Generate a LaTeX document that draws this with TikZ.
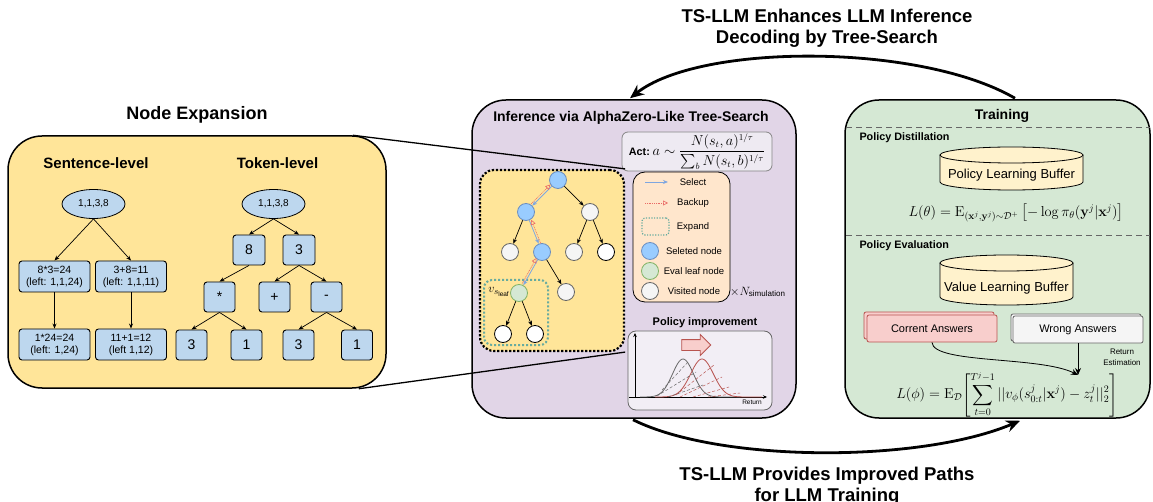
\documentclass[tikz,border=0pt]{standalone}
\usepackage{amsmath}
\usepackage[no-math]{fontspec}
\setmainfont{Liberation Sans}
\usetikzlibrary{arrows.meta,shapes.geometric,shapes.arrows}
\definecolor{yellowbg}{HTML}{FFE599}
\definecolor{boxblue}{HTML}{BDD7EE}
\definecolor{purplebg}{HTML}{E1D5E7}
\definecolor{greenbg}{HTML}{D5E8D4}
\definecolor{peach}{HTML}{FFE6CC}
\definecolor{cylfill}{HTML}{FFF2CC}
\definecolor{redfill}{HTML}{F8CECC}
\definecolor{redline}{HTML}{B85450}
\definecolor{selblue}{HTML}{99CCFF}
\definecolor{selborder}{HTML}{6C8EBF}
\definecolor{visgray}{HTML}{F5F5F5}
\definecolor{visborder}{HTML}{666666}
\definecolor{evgreen}{HTML}{D5E8D4}
\definecolor{evborder}{HTML}{82B366}
\definecolor{tealdot}{HTML}{67AB9F}
\definecolor{selline}{HTML}{7EA6E0}
\definecolor{backred}{HTML}{EA6B66}
\definecolor{actfill}{HTML}{EEEAF2}
\definecolor{pifill}{HTML}{F2EEF5}
\newcommand\fsz[1]{\fontsize{#1}{#1}\selectfont}
\begin{document}
\begin{tikzpicture}[x=1pt,y=-1pt,
 panel/.style={draw=black, line width=1.5pt, rounded corners=34, inner sep=0},
 sbox/.style={draw=black, fill=boxblue, rounded corners=3, minimum width=71, minimum height=31, inner sep=0, align=center, font=\fontsize{10.5}{12}\selectfont, line width=0.9pt},
 tbox/.style={draw=black, fill=boxblue, rounded corners=3, minimum width=31, minimum height=30, inner sep=0, font=\fsz{14}, line width=0.9pt},
 rootell/.style={ellipse, draw=black, fill=boxblue, minimum width=63, minimum height=29, inner sep=0, font=\fsz{10}, line width=0.8pt},
 tarr/.style={-{Stealth[length=5pt,width=4pt]}, line width=0.7pt},
 cnode/.style={circle, minimum size=17, inner sep=0, line width=0.8pt},
 selnode/.style={cnode, fill=selblue, draw=selborder},
 visnode/.style={cnode, fill=visgray, draw=visborder},
 whnode/.style={cnode, fill=white, draw=black},
 evnode/.style={cnode, fill=evgreen, draw=evborder},
 selarr/.style={-{Stealth[length=5pt,width=4pt]}, draw=selline, line width=0.8pt},
 backarr/.style={-{Triangle[open,length=5pt,width=5pt]}, draw=backred, line width=0.6pt, dash pattern=on 1pt off 0.8pt},
 legtext/.style={font=\fsz{9.5}},
 bigarr/.style={-{Stealth[length=14pt,width=12pt]}, line width=2.8pt},
 biglabel/.style={font=\bfseries\fontsize{18.5}{21}\selectfont, align=center},
 dashsep/.style={draw=visborder, line width=0.9pt, dash pattern=on 6pt off 4pt},
 smalltitle/.style={font=\bfseries\fsz{10.8}, anchor=west},
 docbox/.style={minimum width=130, minimum height=27, inner sep=0, line width=0.8pt, rounded corners=2, font=\fsz{11}}
]
\useasboundingbox (0,0) rectangle (1153,502);

% ---------- panels ----------
\node[panel, fill=yellowbg, minimum width=378, minimum height=252] (leftpanel) at (197,262) {};
\node[panel, fill=purplebg, minimum width=324, minimum height=318] (midpanel) at (634,259) {};
\node[panel, fill=greenbg, minimum width=305, minimum height=318] (rightpanel) at (997.5,259) {};

% ---------- left panel ----------
\node[font=\bfseries\fsz{18}] (nodeexp) at (197,115) {Node Expansion};
\node[font=\bfseries\fsz{15}] (sentlab) at (96,163) {Sentence-level};
\node[font=\bfseries\fsz{15}] (toklab) at (277.5,163) {Token-level};

\node[rootell] (e1) at (93.5,204) {1,1,3,8};
\node[sbox] (s1) at (54.5,276.5) {8*3=24\\(left: 1,1,24)};
\node[sbox] (s2) at (131,276.5) {3+8=11\\(left: 1,1,11)};
\node[sbox] (s3) at (54.5,344.5) {1*24=24\\(left: 1,24)};
\node[sbox] (s4) at (131,344.5) {11+1=12\\(left 1,12)};
\draw[tarr] (e1.south) -- (s1.north);
\draw[tarr] (e1.south) -- (s2.north);
\draw[tarr] (s1.south) -- (s3.north);
\draw[tarr] (s2.south) -- (s4.north);

\node[rootell] (e2) at (273.5,204) {1,1,3,8};
\node[tbox, minimum width=32] (t8) at (249,250) {8};
\node[tbox, minimum width=32] (t3) at (299,250) {3};
\node[tbox] (tmul) at (219.5,297) {*};
\node[tbox] (tplus) at (274.5,297) {+};
\node[tbox] (tminus) at (326.5,297) {-};
\node[tbox] (b1) at (191.5,345) {3};
\node[tbox] (b2) at (246.5,345) {1};
\node[tbox] (b3) at (298.5,345) {3};
\node[tbox] (b4) at (357,345) {1};
\draw[tarr] (e2.south) -- (t8.north);
\draw[tarr] (e2.south) -- (t3.north);
\draw[tarr] (t8.south) -- (tmul.north);
\draw[tarr] (t3.south) -- (tplus.north);
\draw[tarr] (t3.south) -- (tminus.north);
\draw[tarr] (tmul.south) -- (b1.north);
\draw[tarr] (tmul.south) -- (b2.north);
\draw[tarr] (tminus.south) -- (b3.north);
\draw[tarr] (tminus.south) -- (b4.north);

% ---------- middle panel ----------
\node[font=\bfseries\fsz{14}] (midtitle) at (631,118) {Inference via AlphaZero-Like Tree-Search};
\node[draw=visborder!80, fill=actfill, rounded corners=6, minimum width=150, minimum height=39, inner sep=0, line width=0.8pt] (act) at (697,151.5)
 {{\bfseries\fsz{10.8}Act:}\ \fontsize{13.5}{14}\selectfont$a\sim\dfrac{N(s_t,a)^{1/\tau}}{\sum_b N(s_t,b)^{1/\tau}}$};

\node[draw=black, fill=yellowbg, rounded corners=14, minimum width=144, minimum height=181, inner sep=0, line width=2.2pt, dash pattern=on 2.2pt off 1.8pt] (dbox) at (552,260.5) {};
\draw[line width=1.3pt] ([xshift=-34pt]leftpanel.north east) -- (dbox.north east);
\draw[line width=1.3pt] ([xshift=-28pt]leftpanel.south east) -- (dbox.south east);

\node[draw=tealdot, rounded corners=8, minimum width=64, minimum height=65, inner sep=0, line width=2pt, dash pattern=on 2pt off 2pt] (ebox) at (516,312.5) {};

\node[selnode] (n0) at (558,180) {};
\node[selnode] (n1) at (526,212) {};
\node[visnode] (n2) at (590,212) {};
\node[visnode] (n3) at (510,252) {};
\node[selnode] (n4) at (542,252) {};
\node[visnode] (n5) at (574,252) {};
\node[whnode] (n6) at (606,252) {};
\node[evnode] (n7) at (519,293) {};
\node[visnode] (n8) at (566,292) {};
\node[whnode] (n9) at (503,334) {};
\node[whnode] (n10) at (535,334) {};
\node[anchor=east, inner sep=0, font=\fsz{13}] (vleaf) at (510,292) {$v_{s_{\text{leaf}}}$};

\draw[tarr] (n0) -- (n2);
\draw[tarr] (n1) -- (n3);
\draw[tarr] (n2) -- (n5);
\draw[tarr] (n2) -- (n6);
\draw[tarr] (n4) -- (n8);
\draw[tarr] (n7) -- (n9);
\draw[tarr] (n7) -- (n10);
\draw[selarr] (n0) -- (n1);
\draw[selarr] (n1) -- (n4);
\draw[selarr] (n4) -- (n7);
\draw[backarr, transform canvas={xshift=-1.2pt,yshift=1.8pt}] (n1) -- (n0);
\draw[backarr, transform canvas={xshift=2pt,yshift=0.5pt}] (n4) -- (n1);
\draw[backarr, transform canvas={xshift=-1.2pt,yshift=1.8pt}] (n7) -- (n4);

% legend
\node[draw=black, fill=peach, rounded corners=12, minimum width=97, minimum height=130, inner sep=0, line width=0.8pt] (leg) at (681.5,237) {};
\coordinate (ls1) at (645,182);
\coordinate (ls2) at (668,182);
\draw[selarr] (ls1) -- (ls2);
\node[legtext] (lsel) at (693,182) {Select};
\coordinate (lb1) at (645,203);
\coordinate (lb2) at (668,203);
\draw[backarr] (lb1) -- (lb2);
\node[legtext] (lback) at (693,203) {Backup};
\node[draw=tealdot, rounded corners=3, minimum width=27, minimum height=17, inner sep=0, line width=1.2pt, dash pattern=on 1.2pt off 1.5pt] (lexp) at (655.5,226.5) {};
\node[legtext] (lexpt) at (693,227) {Expand};
\node[selnode] (lc1) at (650,251) {};
\node[legtext] (lc1t) at (694,251) {Seleted node};
\node[evnode] (lc2) at (650,271) {};
\node[legtext] (lc2t) at (694,271) {Eval leaf node};
\node[visnode] (lc3) at (650,291) {};
\node[legtext] (lc3t) at (694,291) {Visited node};
\node[anchor=west, inner sep=0, font=\fsz{12}] (nsim) at (730,292) {$\times N_{\text{simulation}}$};

% policy improvement
\node[font=\bfseries\fsz{11}] (pititle) at (705,323) {Policy improvement};
\node[draw=visborder, fill=pifill, rounded corners=8, minimum width=144, minimum height=79, inner sep=0, line width=0.8pt] (pibox) at (700,370.5) {};
\coordinate (ay0) at (635,398);
\coordinate (ay1) at (635,333);
\coordinate (ax0) at (629,397);
\coordinate (ax1) at (767,397);
\draw[-{Stealth[length=4pt,width=3.5pt]}, line width=0.7pt] (ay0) -- (ay1);
\draw[-{Stealth[length=4pt,width=3.5pt]}, line width=0.7pt] (ax0) -- (ax1);
\node[font=\fsz{6.5}, inner sep=0] (retlab) at (752,402) {Return};
\draw[visborder, line width=0.8pt] plot[domain=640:740, samples=80] (\x, {397-38*exp(-((\x-683)^2)/220)});
\draw[redline, line width=0.8pt] plot[domain=655:762, samples=80] (\x, {397-38*exp(-((\x-702)^2)/260)});
\draw[visborder, densely dashed, line width=0.5pt] (662,390) -- (688,362);
\draw[visborder, densely dashed, line width=0.5pt] (657,396) -- (696,372);
\draw[visborder, densely dashed, line width=0.5pt] (668,397) -- (703,385);
\draw[redline, densely dashed, line width=0.5pt] (676,395) -- (714,365);
\draw[redline, densely dashed, line width=0.5pt] (680,397) -- (722,377);
\draw[redline, densely dashed, line width=0.5pt] (693,397) -- (729,387);
\draw[redline, densely dashed, line width=0.5pt] (708,397) -- (740,393);
\node[single arrow, draw=redline, fill=redfill, minimum height=29, inner xsep=0, inner ysep=5pt, single arrow head extend=5pt, single arrow head indent=0pt, line width=0.8pt] (piarrow) at (693.5,345) {};

% ---------- right panel ----------
\node[font=\bfseries\fsz{14}] (traintitle) at (1002,116) {Training};
\coordinate (d1a) at (846,127);
\coordinate (d1b) at (1150,127);
\draw[dashsep] (d1a) -- (d1b);
\coordinate (d2a) at (846,235);
\coordinate (d2b) at (1150,235);
\draw[dashsep] (d2a) -- (d2b);
\node[smalltitle] (pdist) at (856,138) {Policy Distillation};
\node[smalltitle] (peval) at (856,246) {Policy Evaluation};

% cylinder 1
\fill[cylfill] (940,155) -- (940,182) arc[start angle=180,end angle=360,x radius=71.5pt,y radius=8pt] -- (1083,155) arc[start angle=0,end angle=180,x radius=71.5pt,y radius=8pt] -- cycle;
\draw[line width=0.8pt] (940,155) -- (940,182) arc[start angle=180,end angle=360,x radius=71.5pt,y radius=8pt] -- (1083,155);
\draw[line width=0.8pt] (1011.5,155) ellipse[x radius=71.5pt,y radius=8pt];
\node[font=\fsz{13}] (plb) at (1011.5,175) {Policy Learning Buffer};
\node[font=\fontsize{14}{16}\selectfont] (lossp) at (1016,213) {$L(\theta)=\mathrm{E}_{(\mathbf{x}^j,\mathbf{y}^j)\sim\mathcal{D}^+}\left[-\log\pi_\theta(\mathbf{y}^j|\mathbf{x}^j)\right]$};

% cylinder 2
\fill[cylfill] (940,263) -- (940,297) arc[start angle=180,end angle=360,x radius=66.5pt,y radius=8pt] -- (1073,263) arc[start angle=0,end angle=180,x radius=66.5pt,y radius=8pt] -- cycle;
\draw[line width=0.8pt] (940,263) -- (940,297) arc[start angle=180,end angle=360,x radius=66.5pt,y radius=8pt] -- (1073,263);
\draw[line width=0.8pt] (1006.5,263) ellipse[x radius=66.5pt,y radius=8pt];
\node[font=\fsz{13}] (vlb) at (1006.5,288) {Value Learning Buffer};

% answer boxes
\node[docbox, draw=redline, fill=redfill] (caback) at (929,325.5) {};
\node[docbox, draw=redline, fill=redfill] (ca) at (932,328.5) {Corrent Answers};
\node[docbox, draw=visborder, fill=visgray] (waback) at (1076,327.5) {};
\node[docbox, draw=visborder, fill=visgray] (wa) at (1078,329.5) {Wrong Answers};
\coordinate (tip) at (1078,375);
\draw[-{Stealth[length=7pt,width=6pt]}, line width=0.8pt] (ca.south) .. controls (933,364) and (1040,356) .. (tip);
\draw[-{Stealth[length=7pt,width=6pt]}, line width=0.8pt] (wa.south) -- (tip);
\node[font=\fontsize{8}{11}\selectfont, align=center] (retest) at (1122,357) {Return\\Estimation};
\node[font=\fontsize{14}{16}\selectfont] (lossv) at (1007,394) {$\displaystyle L(\phi)=\mathrm{E}_{\mathcal{D}}\Biggl[\sum_{t=0}^{T^j-1}||v_\phi(s^j_{0:t}|\mathbf{x}^j)-z^j_t||_2^2\Biggr]$};

% ---------- big arcs ----------
\draw[bigarr] ([xshift=17.5pt,yshift=1pt]rightpanel.north) .. controls (920,43) and (700,43) .. ([xshift=-4pt,yshift=1pt]midpanel.north);
\node[biglabel] (toplab) at (827,28) {TS-LLM Enhances LLM Inference\\Decoding by Tree-Search};
\draw[bigarr] ([xshift=-1pt,yshift=-1pt]midpanel.south) .. controls (720,463) and (920,463) .. ([xshift=22.5pt,yshift=-2pt]rightpanel.south);
\node[biglabel] (botlab) at (827,486) {TS-LLM Provides Improved Paths\\for LLM Training};
\end{tikzpicture}
\end{document}
